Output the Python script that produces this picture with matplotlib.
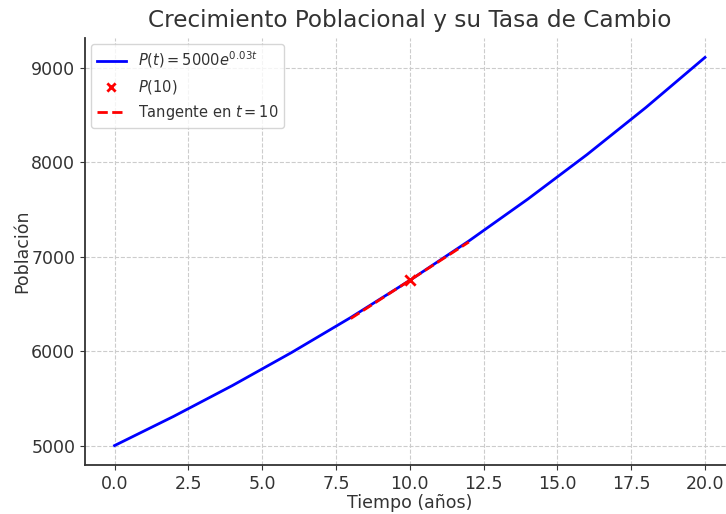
import matplotlib
matplotlib.use("Agg")
import matplotlib.pyplot as plt

# Data
t_years = [0, 2, 4, 6, 8, 10, 12, 14, 16, 18, 20]
population = [5000, 5309, 5637, 5986, 6356, 6749, 7166, 7610, 8080, 8580, 9110]
point_t = [10]
point_p = [6750]
tangent_t = [8, 12]
tangent_p = [6345, 7155]

title = "Crecimiento Poblacional y su Tasa de Cambio"
xlabel = "Tiempo (años)"
ylabel = "Población"
labels = [r"$P(t) = 5000e^{0.03t}$", r"$P(10)$", r"Tangente en $t = 10$"]

txt = "#333333"
plt.rcParams.update({
    "font.family": "DejaVu Sans",
    "text.color": txt,
    "axes.labelcolor": txt,
    "xtick.color": txt,
    "ytick.color": txt,
    "axes.edgecolor": txt,
})

fig = plt.figure(figsize=(7.26, 5.14), dpi=100)
ax = fig.add_axes([85 / 726, 49 / 514, 649.5 / 726, 427 / 514])

ax.plot(t_years, population, color="blue", lw=2, label=labels[0])
ax.scatter(point_t, point_p, color="red", marker="x", s=55, linewidths=2, zorder=5, label=labels[1])
ax.plot(tangent_t, tangent_p, color="red", ls="--", lw=2, label=labels[2])

ax.set_title(title, fontsize=16.7, color=txt, pad=8)
ax.set_xlabel(xlabel, fontsize=12.5, labelpad=1)
ax.set_ylabel(ylabel, fontsize=12.5, labelpad=0)
ax.tick_params(labelsize=12.5, length=3.5)
ax.set_xticks([0, 2.5, 5, 7.5, 10, 12.5, 15, 17.5, 20])
ax.grid(True, ls="--", color="#cccccc", lw=0.8)
ax.spines["top"].set_visible(False)
ax.spines["right"].set_visible(False)
ax.spines["left"].set_linewidth(1.3)
ax.spines["bottom"].set_linewidth(1.3)

ax.legend(loc="upper left", fontsize=10.5, framealpha=0.8, edgecolor="#cccccc",
          borderaxespad=0.4, markerscale=0.8)

fig.savefig("out.png", dpi=100)
